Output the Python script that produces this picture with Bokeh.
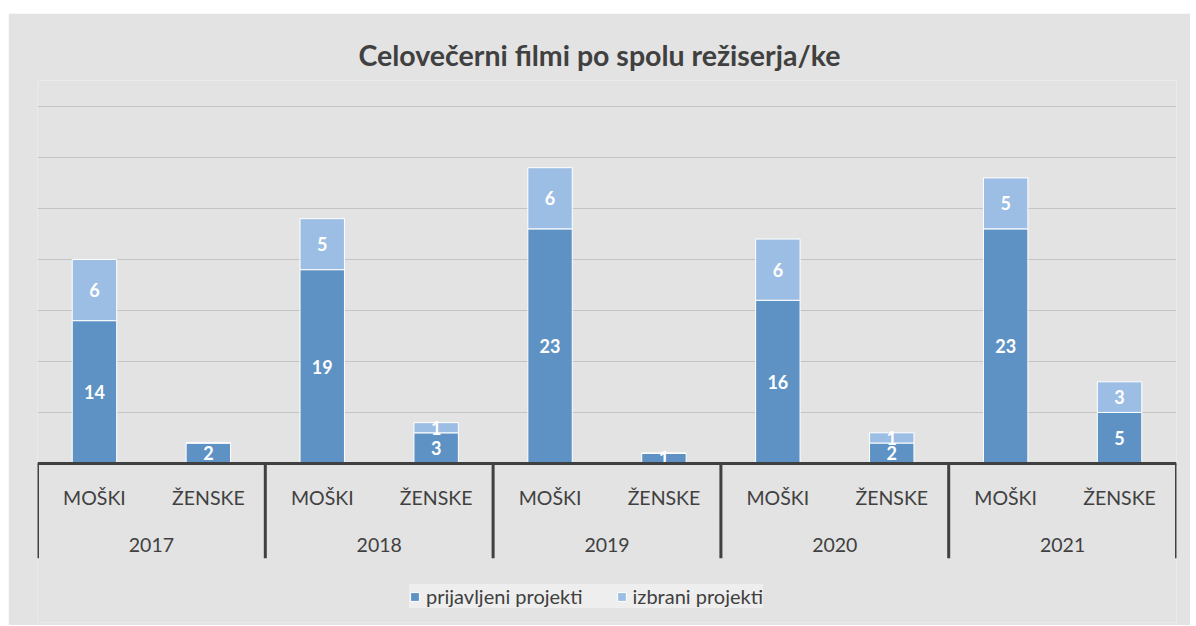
from bokeh.plotting import figure
from bokeh.models import (FactorRange, Range1d, FixedTicker, Span, ColumnDataSource,
                          Legend, LegendItem)
from bokeh.embed import file_html
from bokeh.resources import INLINE
from bokeh.core.properties import value

# ---- data ----
title_text = "Celovečerni filmi po spolu režiserja/ke"
years = ["2017", "2018", "2019", "2020", "2021"]
genders = ["MOŠKI", "ŽENSKE"]
series_names = ["prijavljeni projekti", "izbrani projekti"]
prijavljeni = [14, 2, 19, 3, 23, 1, 16, 2, 23, 5]
izbrani = [6, 0, 5, 1, 6, 0, 6, 1, 5, 3]
grid_ticks = [5, 10, 15, 20, 25, 30, 35]

# ---- style ----
BG = "#e3e3e3"
DARK = "#5e92c5"
LIGHT = "#9dbee4"
TXT = "#404040"
FONT = "Lato"

factors = [(y, g) for y in years for g in genders]

p = figure(
    x_range=FactorRange(*factors, factor_padding=0, group_padding=0,
                        subgroup_padding=0, range_padding=0),
    y_range=Range1d(-15.6, 37.55),
    width=1182, height=612,
    output_backend="svg", toolbar_location=None,
    min_border_left=29, min_border_right=14, min_border_top=67, min_border_bottom=3,
    background_fill_color=BG, border_fill_color=BG, outline_line_color=None,
    title=title_text,
)
p.margin = (13, 0, 0, 8)
p.title.align = "left"
p.title.offset = 321
p.title.text_font = FONT
p.title.text_font_size = "28.5px"
p.title.text_font_style = "bold"
p.title.text_color = TXT
p.title.standoff = 17

p.xaxis.visible = False
p.yaxis.visible = False
p.xgrid.visible = False
p.ygrid.ticker = FixedTicker(ticks=grid_ticks)
p.ygrid.grid_line_color = "#c4c4c4"
p.ygrid.grid_line_width = 1.2

src = ColumnDataSource(dict(x=factors, prijavljeni=prijavljeni, izbrani=izbrani))
rs = p.vbar_stack(["prijavljeni", "izbrani"], x="x", width=0.39, source=src,
                  fill_color=[DARK, LIGHT], line_color="white", line_width=1)

# data labels (segment midpoints)
lx, ly, lt = [], [], []
for f, a, b in zip(factors, prijavljeni, izbrani):
    if a > 0:
        lx.append(f); ly.append(a / 2); lt.append(str(a))
    if b > 0:
        lx.append(f); ly.append(a + b / 2); lt.append(str(b))
p.text(x="x", y="y", text="t", source=ColumnDataSource(dict(x=lx, y=ly, t=lt)),
       text_color="white", text_font=value(FONT), text_font_style="bold",
       text_font_size="18px", text_align="center", text_baseline="middle")

# axis line
p.add_layout(Span(location=0, dimension="width", line_color=TXT, line_width=3))

# group separators
sep_x = [i * len(genders) for i in range(len(years) + 1)]
p.segment(x0=sep_x, y0=[0] * len(sep_x), x1=sep_x, y1=[-9.3] * len(sep_x),
          line_color=TXT, line_width=3)

# category labels
p.text(x=factors, y=[0] * len(factors), text=[g for _, g in factors], y_offset=34,
       text_color=TXT, text_font=value(FONT), text_font_size="19.5px",
       text_align="center", text_baseline="middle")
p.text(x=years, y=[0] * len(years), text=years, y_offset=82,
       text_color=TXT, text_font=value(FONT), text_font_size="19.5px",
       text_align="center", text_baseline="middle")

legend = Legend(
    items=[LegendItem(label=series_names[0], renderers=[rs[0]]),
           LegendItem(label=series_names[1], renderers=[rs[1]])],
    orientation="horizontal", location=(372, 14),
    background_fill_color="#eeeeee", background_fill_alpha=1,
    border_line_color=None, label_text_font=FONT, label_text_font_size="20px",
    label_text_color=TXT, glyph_width=11, glyph_height=11, padding=10,
    spacing=33, label_standoff=6, margin=0,
)
p.add_layout(legend)

open("out.html", "w").write(file_html(p, INLINE))
